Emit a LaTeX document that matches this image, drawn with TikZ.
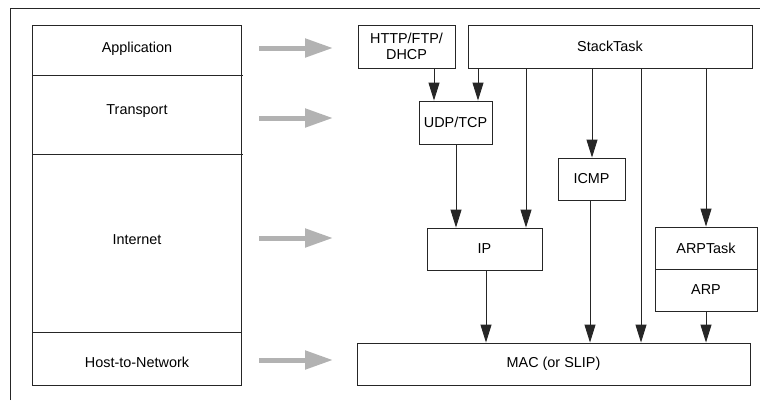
\documentclass[tikz,border=0pt]{standalone}
\usepackage{fontspec}
\setmainfont{Liberation Sans}
\usetikzlibrary{arrows.meta}
\begin{document}
\begin{tikzpicture}[x=1pt,y=-1pt,
  ln/.style={line width=0.9pt,draw=black!85},
  box/.style={ln,rectangle,inner sep=0pt,align=center,font=\fontsize{14.4}{16}\selectfont},
  lbl/.style={inner sep=0pt,font=\fontsize{14.4}{16}\selectfont},
  arr/.style={ln,-{Triangle[length=18pt,width=11pt]}},
  garr/.style={line width=5pt,draw=black!30,-{Triangle[length=28pt,width=18pt]}},
]
\useasboundingbox (0,0) rectangle (760,400);
% outer frame
\draw[ln] (10,400) -- (10,8) -- (760,8);
% layer table
\draw[ln] (32,25) rectangle (241,385);
\draw[ln] (32,75) -- (243,75);
\draw[ln] (32,154) -- (243,154);
\draw[ln] (32,332) -- (241,332);
\node[lbl] (app) at (137,49) {Application};
\node[lbl] (tra) at (137,111) {Transport};
\node[lbl] (int) at (137,240) {Internet};
\node[lbl] (hos) at (137,362) {Host-to-Network};
% gray arrows
\foreach \n/\y in {a/48,b/118,c/238,d/360}{
  \coordinate (g\n1) at (259,\y);
  \coordinate (g\n2) at (333,\y);
  \draw[garr] (g\n1) -- (g\n2);
}
% boxes
\node[box,minimum width=97pt,minimum height=43pt] (http) at (406.5,46.5) {HTTP/FTP/\\DHCP};
\node[box,minimum width=284pt,minimum height=43pt] (stack) at (610,46.5) {StackTask};
\node[box,minimum width=73pt,minimum height=43pt] (udp) at (455.5,122.5) {UDP/TCP};
\node[box,minimum width=67pt,minimum height=42pt] (icmp) at (591.5,179) {ICMP};
\node[box,minimum width=115pt,minimum height=42pt] (ip) at (484.5,249) {IP};
\node[box,minimum width=102pt,minimum height=42pt] (arpt) at (706,248) {ARPTask};
\node[box,minimum width=102pt,minimum height=42pt] (arp) at (706,290) {ARP};
\node[box,minimum width=393pt,minimum height=42pt] (mac) at (553.5,364) {MAC (or SLIP)};
% column coordinates
\coordinate (x1) at (434,0);
\coordinate (x2) at (478,0);
\coordinate (x3) at (456,0);
\coordinate (x4) at (526,0);
\coordinate (x5) at (592,0);
\coordinate (x6) at (486,0);
\coordinate (x7) at (590,0);
\coordinate (x8) at (641,0);
\coordinate (x9) at (706,0);
% connectors
\draw[arr] (http.south -| x1) -- (udp.north -| x1);
\draw[arr] (stack.south -| x2) -- (udp.north -| x2);
\draw[arr] (udp.south -| x3) -- (ip.north -| x3);
\draw[arr] (stack.south -| x4) -- (ip.north -| x4);
\draw[arr] (stack.south -| x5) -- (icmp.north -| x5);
\draw[arr] (ip.south -| x6) -- (mac.north -| x6);
\draw[arr] (icmp.south -| x7) -- (mac.north -| x7);
\draw[arr] (stack.south -| x8) -- (mac.north -| x8);
\draw[arr] (stack.south -| x9) -- (arpt.north -| x9);
\draw[arr] (arp.south -| x9) -- (mac.north -| x9);
\end{tikzpicture}
\end{document}
